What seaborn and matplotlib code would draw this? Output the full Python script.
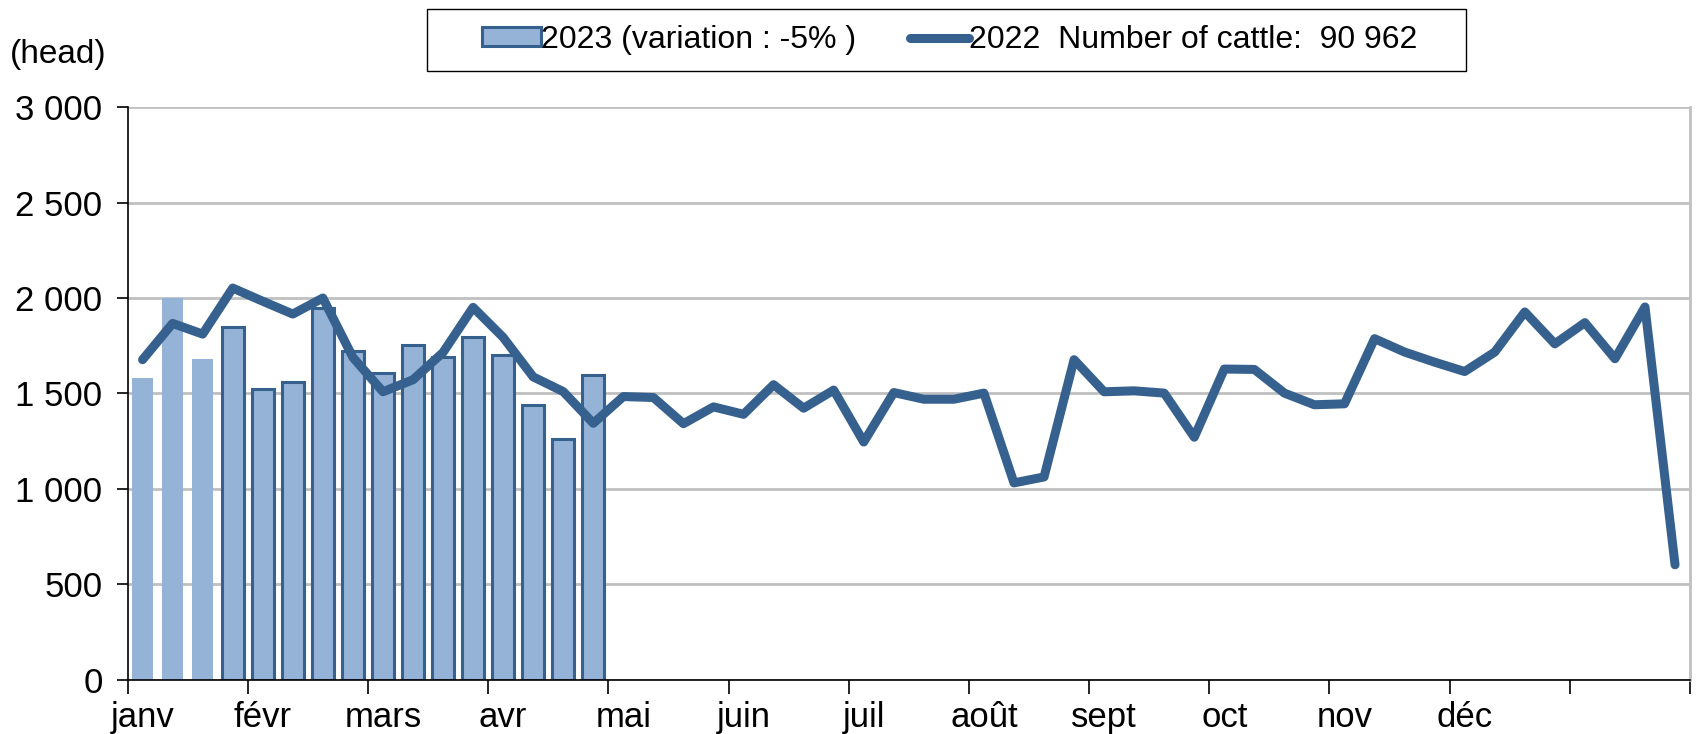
import matplotlib
matplotlib.use("Agg")
import matplotlib.pyplot as plt
import seaborn as sb
import pandas as pd
import numpy as np
from matplotlib.patches import Patch, Rectangle
from matplotlib.lines import Line2D
from matplotlib.ticker import FuncFormatter, FixedLocator

# weekly slaughter figures (head)
heads_2023 = [1580, 2000, 1680, 1850, 1525, 1558, 1948, 1724, 1607, 1752,
              1689, 1794, 1699, 1439, 1262, 1596]
heads_2022 = [1677, 1867, 1811, 2052, 1983, 1916, 2000, 1689, 1509, 1572,
              1715, 1951, 1794, 1587, 1510, 1344, 1484, 1479, 1342, 1430,
              1391, 1546, 1423, 1518, 1246, 1505, 1470, 1470, 1502, 1032,
              1063, 1677, 1509, 1514, 1502, 1271, 1628, 1626, 1502, 1441,
              1446, 1787, 1717, 1664, 1615, 1717, 1927, 1760, 1871, 1682,
              1953, 603]
months = ["janv", "févr", "mars", "avr", "mai", "juin", "juil", "août",
          "sept", "oct", "nov", "déc"]
label_2023 = "2023 (variation : -5% )"
label_2022 = "2022  Number of cattle:  90 962"

bar_fill = "#95B3D7"
bar_edge = "#36618F"
line_col = "#36618F"

sb.set_style("white")
plt.rcParams["font.family"] = ["Liberation Sans", "DejaVu Sans"]
for k in ["text.color", "axes.labelcolor", "xtick.color", "ytick.color"]:
    plt.rcParams[k] = "black"
fs = 25

df23 = pd.DataFrame({"week": np.arange(len(heads_2023)), "head": heads_2023})
df22 = pd.DataFrame({"week": np.arange(len(heads_2022)), "head": heads_2022})

fig = plt.figure(figsize=(16.96, 7.34), dpi=100)
ax = fig.add_axes([0.0752, 0.0736, 0.9213, 0.7806])

sb.barplot(data=df23, x="week", y="head", native_scale=True, width=0.72,
           color=bar_fill, edgecolor=bar_edge, linewidth=2.2, saturation=1,
           ax=ax, zorder=2)
# the first three weeks have no outline
for p in ax.patches[:3]:
    p.set_edgecolor(bar_fill)
    p.set_linewidth(0)

sb.lineplot(data=df22, x="week", y="head", color=line_col, lw=6.5, ax=ax,
            zorder=3, solid_capstyle="round", solid_joinstyle="round")

ax.set_xlim(-0.5, len(heads_2022) - 0.5)
ax.set_ylim(0, 3000)
ax.set_yticks(np.arange(0, 3001, 500))
ax.yaxis.set_major_formatter(FuncFormatter(lambda v, p: f"{int(v):,}".replace(",", " ")))
ax.grid(axis="y", color="#C0C0C0", lw=2, zorder=0)
ax.set_axisbelow(True)

ax.set_xticks(np.arange(0, 48, 4))
ax.set_xticklabels(months)
ax.xaxis.set_minor_locator(FixedLocator(np.arange(-0.5, 52, 4)))
ax.tick_params(axis="x", which="major", length=0, pad=15, labelsize=fs)
ax.tick_params(axis="x", which="minor", length=10, width=1.2, color="black",
               direction="out", bottom=True)
ax.tick_params(axis="y", length=8, width=1.2, color="black", direction="out",
               left=True, labelsize=fs, pad=10)
ax.set_xlabel("")
ax.set_ylabel("")

for s in ["left", "bottom"]:
    ax.spines[s].set_color("black")
    ax.spines[s].set_linewidth(1.2)
ax.spines["right"].set_color("#C0C0C0")
ax.spines["right"].set_linewidth(2)
ax.spines["top"].set_visible(False)

fig.text(0.006, 0.926, "(head)", fontsize=24, ha="left", va="center")

# legend box drawn separately (wider side padding than matplotlib allows)
fig.patches.append(Rectangle((0.2518, 0.9027), 0.6126, 0.085,
                             transform=fig.transFigure, fill=False,
                             edgecolor="black", lw=1.0))
handles = [Patch(facecolor=bar_fill, edgecolor=bar_edge, linewidth=2.2),
           Line2D([0], [0], color=line_col, lw=6.5, solid_capstyle="round")]
leg = fig.legend(handles, [label_2023, label_2022], ncol=2, loc="center",
                 bbox_to_anchor=(0.560, 0.9455), fontsize=23, frameon=False,
                 handlelength=1.85, handleheight=0.55, handletextpad=0.0,
                 columnspacing=1.7, borderpad=0.2, borderaxespad=0)

fig.savefig("out.png", dpi=100)
